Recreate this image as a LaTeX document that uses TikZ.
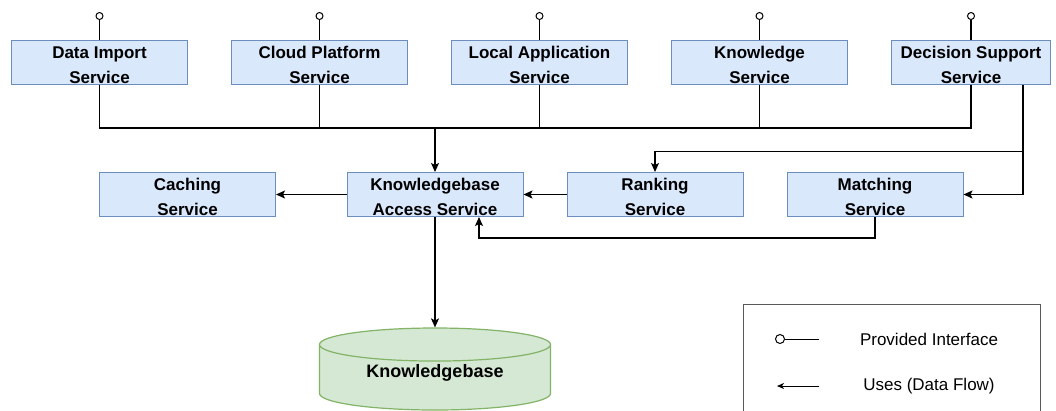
\documentclass[tikz,border=0pt]{standalone}
\usepackage{fontspec}
\setmainfont{Liberation Sans}
\usetikzlibrary{shapes,arrows,arrows.meta}
\definecolor{svcfill}{HTML}{DAE8FC}
\definecolor{svcdraw}{HTML}{6C8EBF}
\definecolor{kbfill}{HTML}{D5E8D4}
\definecolor{kbdraw}{HTML}{82B366}
\tikzstyle{line} = [draw, -{Stealth[length=9pt,width=8pt,inset=2pt]}, line width=1.1pt]
\tikzstyle{wire} = [draw, line width=1.1pt]
\tikzstyle{service} = [rectangle, draw=svcdraw, fill=svcfill, line width=1pt, minimum width=176pt, minimum height=44pt, inner sep=0pt, align=center, text height=42pt, text depth=0pt, node distance=220pt, font=\fontsize{17}{25}\selectfont\bfseries]
\tikzstyle{iface} = [circle, draw, fill=white, line width=1pt, minimum size=7pt, inner sep=0pt, node distance=46pt]
\tikzstyle{kbase} = [cylinder, shape border rotate=90, aspect=0.23, draw=kbdraw, fill=kbfill, line width=1.2pt, minimum width=231pt, minimum height=82pt, font=\fontsize{18}{22}\selectfont\bfseries]
\tikzstyle{kbtext} = [font=\fontsize{18}{22}\selectfont\bfseries]
\tikzstyle{legbox} = [rectangle, draw=black!65, line width=1pt, minimum width=297pt, minimum height=140pt, anchor=north west]
\tikzstyle{legtext} = [font=\fontsize{17}{20}\selectfont]

\begin{document}
\begin{tikzpicture}[x=1pt, y=-1pt]
	\path [use as bounding box, clip] (0,0) rectangle (1056,410);

	% top row
	\node [service] (dis) at (99.5,62) {Data Import\\Service};
	\node [service, right of=dis] (cps) {Cloud Platform\\Service};
	\node [service, right of=cps] (las) {Local Application\\Service};
	\node [service, right of=las] (ks) {Knowledge\\Service};
	\node [service, right of=ks, node distance=211.5pt, minimum width=159pt] (dss) {Decision Support\\Service};

	\node [iface, above of=dis] (dis_if) {};
	\path [wire] (dis_if) -- (dis);
	\node [iface, above of=cps] (cps_if) {};
	\path [wire] (cps_if) -- (cps);
	\node [iface, above of=las] (las_if) {};
	\path [wire] (las_if) -- (las);
	\node [iface, above of=ks] (ks_if) {};
	\path [wire] (ks_if) -- (ks);
	\node [iface, above of=dss] (dss_if) {};
	\path [wire] (dss_if) -- (dss);

	% middle row
	\node [service] (kas) at (435,194.5) {Knowledgebase\\Access Service};
	\node [service, left of=kas, node distance=247.5pt] (cs) {Caching\\Service};
	\node [service, right of=kas] (rs) {Ranking\\Service};
	\node [service, right of=rs] (ms) {Matching\\Service};

	% bus into the access service
	\coordinate [above of=kas, node distance=66.5pt] (bus);
	\path [wire] (dis.south) |- (bus);
	\path [wire] (cps.south) |- (bus);
	\path [wire] (las.south) |- (bus);
	\path [wire] (ks.south) |- (bus);
	\path [wire] (dss.south) |- (bus);
	\path [line] (bus) -- (kas.north);

	% decision support uses ranking and matching
	\coordinate (dss_out) at ([xshift=52pt]dss.south);
	\coordinate (dss_split) at ([xshift=52pt,yshift=-67pt]dss.south);
	\path [wire] (dss_out) -- (dss_split);
	\path [line] (dss_split) |- (ms.east);
	\path [line] (dss_split) -| (rs.north);

	\path [line] (kas.west) -- (cs.east);
	\path [line] (rs.west) -- (kas.east);
	\coordinate (ms_turn) at ([yshift=-21pt]ms.south);
	\path [line] (ms.south) -- (ms_turn) -| ([xshift=44pt]kas.south);

	% storage
	\node [kbase, anchor=shape center] (kb) at ([yshift=-152pt]kas.south) {\phantom{Knowledgebase}};
	\node [kbtext] (kb_text) at ([yshift=-4pt]kb.shape center) {Knowledgebase};
	\path [line] (kas.south) -- (kb.north);

	% legend
	\node [legbox] (legend) at (743,304) {};
	\node [iface, minimum size=9pt] (lg_if) at (780,339) {};
	\coordinate (lg_if_end) at (819,339);
	\path [draw, line width=0.8pt] (lg_if) -- (lg_if_end);
	\node [legtext] (lg_pi) at (929,339) {Provided Interface};
	\coordinate (lg_from) at (819,386);
	\coordinate (lg_to) at (777,386);
	\path [draw, line width=0.8pt, -{Stealth[length=7pt,width=6pt,inset=2pt]}] (lg_from) -- (lg_to);
	\node [legtext] (lg_uses) at (929,386) {Uses (Data Flow)};
\end{tikzpicture}
\end{document}
